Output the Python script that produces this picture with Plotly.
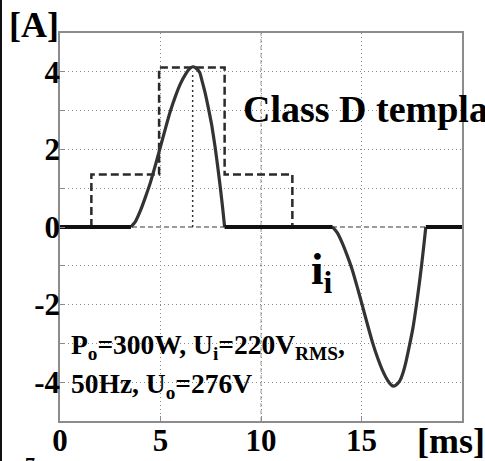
import plotly.graph_objects as go

# ---- data (time in ms, current in A) ----
pos_t = [3.53, 3.75, 4.00, 4.25, 4.50, 4.75, 5.00, 5.25, 5.50, 5.75, 6.00, 6.25, 6.45, 6.60,
         6.75, 6.95, 7.05, 7.20, 7.40, 7.55, 7.72, 7.86, 7.98, 8.09, 8.19]
pos_i = [0.00, 0.14, 0.42, 0.77, 1.15, 1.60, 2.07, 2.55, 3.00, 3.38, 3.70, 3.94, 4.08, 4.13,
         4.10, 3.98, 3.80, 3.50, 3.02, 2.62, 2.05, 1.50, 1.00, 0.50, 0.00]

neg_t = [13.56, 13.80, 14.05, 14.30, 14.55, 14.80, 15.05, 15.30, 15.55, 15.80, 16.05, 16.30, 16.48, 16.60,
         16.75, 16.92, 17.05, 17.20, 17.40, 17.56, 17.73, 17.87, 17.99, 18.10, 18.20]
neg_i = [0.00, -0.15, -0.42, -0.75, -1.12, -1.57, -2.04, -2.52, -2.98, -3.37, -3.70, -3.95, -4.07, -4.10,
         -4.06, -3.95, -3.78, -3.50, -3.02, -2.60, -2.02, -1.48, -0.98, -0.48, 0.00]

template_t = [1.56, 1.56, 4.93, 4.93, 8.19, 8.19, 11.56, 11.56]
template_i = [0.0, 1.355, 1.355, 4.11, 4.11, 1.355, 1.355, 0.0]

peak_t = 6.60
peak_i = 4.00

x_range = [0, 20]
y_range = [-5, 5]
x_ticks = [0, 5, 10, 15]
y_ticks = [-4, -2, 0, 2, 4]
y_minor = [-4, -3, -2, -1, 0, 1, 2, 3, 4]
dashed_grid_x = [10]

# ---- figure geometry (margins expressed through axis domains) ----
W, H = 485, 461
PL, PR, PT, PB = 60, 462, 33, 421   # plot-area box in pixels


def px(x):
    return x / W


def py(y):
    return (H - y) / H


SERIF = "Liberation Serif, Times New Roman, serif"

fig = go.Figure()

# gray dashed zero line
fig.add_trace(go.Scatter(x=x_range, y=[0, 0], mode="lines",
                         line=dict(color="#9a9a9a", width=2, dash="5px,3px"),
                         hoverinfo="skip", showlegend=False))

# dashed grid line at 10 ms
for xv in dashed_grid_x:
    fig.add_trace(go.Scatter(x=[xv, xv], y=y_range, mode="lines",
                             line=dict(color="#9a9a9a", width=1, dash="4px,3px"),
                             hoverinfo="skip", showlegend=False))

# dotted peak marker
fig.add_trace(go.Scatter(x=[peak_t, peak_t], y=[0, peak_i], mode="lines",
                         line=dict(color="#333333", width=1.5, dash="2px,3px"),
                         hoverinfo="skip", showlegend=False))

# Class D template (dashed)
fig.add_trace(go.Scatter(x=template_t, y=template_i, mode="lines",
                         line=dict(color="#2a2a2a", width=2.5, dash="8px,4px"),
                         hoverinfo="skip", showlegend=False))

# current humps
hump_t = pos_t + [None] + neg_t
hump_i = pos_i + [None] + neg_i
fig.add_trace(go.Scatter(x=hump_t, y=hump_i, mode="lines",
                         line=dict(color="#333333", width=3.2, shape="spline", smoothing=0.5),
                         connectgaps=False, hoverinfo="skip", showlegend=False))

# zero-current intervals (thick black)
flat_t = [x_range[0], pos_t[0], None, pos_t[-1], neg_t[0], None, neg_t[-1], x_range[1]]
flat_i = [0, 0, None, 0, 0, None, 0, 0]
fig.add_trace(go.Scatter(x=flat_t, y=flat_i, mode="lines",
                         line=dict(color="#111111", width=4),
                         connectgaps=False, hoverinfo="skip", showlegend=False))

grid_common = dict(gridcolor="#8a8a8a", gridwidth=1, griddash="1px,3px")
tick_font = dict(family=SERIF, size=31, color="#000", weight="bold")

fig.update_xaxes(domain=[px(PL), px(PR)], range=x_range, automargin=False,
                 tickvals=x_ticks, ticktext=[str(v) for v in x_ticks],
                 showgrid=True, zeroline=False, showline=True, mirror=True,
                 linecolor="#8c8c8c", linewidth=1.5,
                 ticks="inside", ticklen=5, tickcolor="#8c8c8c",
                 tickfont=tick_font, ticklabelstandoff=-9,
                 **grid_common)
fig.update_yaxes(domain=[py(PB), py(PT)], range=y_range, automargin=False,
                 tickvals=y_ticks, ticktext=[str(v) for v in y_ticks],
                 showgrid=True, zeroline=False, showline=True, mirror=True,
                 linecolor="#8c8c8c", linewidth=1.5,
                 ticks="inside", ticklen=5, tickcolor="#8c8c8c",
                 tickfont=tick_font, ticklabelstandoff=-8,
                 minor=dict(tickvals=y_minor, showgrid=True, ticks="inside", ticklen=5,
                            tickcolor="#8c8c8c", **grid_common),
                 **grid_common)

annots = [
    dict(text="[A]", x=34, y=25, size=36, xanchor="center"),
    dict(text="Class D template", x=241, y=109, size=38, xanchor="left"),
    dict(text="i<sub>i</sub>", x=309, y=272, size=45, xanchor="left"),
    dict(text="P<sub>o</sub>=300W, U<sub>i</sub>=220V<sub>RMS</sub>,", x=69, y=346,
         size=27.5, xanchor="left"),
    dict(text="50Hz, U<sub>o</sub>=276V", x=69, y=385, size=27.5, xanchor="left"),
    dict(text="[ms]", x=415, y=441, size=36, xanchor="left"),
    dict(text="7", x=30, y=452, size=20, xanchor="center", yanchor="top"),
]
for a in annots:
    fig.add_annotation(text=a["text"], x=px(a["x"]), y=py(a["y"]), xref="paper", yref="paper",
                       xanchor=a["xanchor"], yanchor=a.get("yanchor", "middle"),
                       showarrow=False,
                       font=dict(family=SERIF, size=a["size"], color="#000", weight="bold"))

# black rule along the left edge of the image
fig.add_shape(type="rect", xref="paper", yref="paper",
              x0=0, x1=px(2), y0=0, y1=1,
              line=dict(width=0), fillcolor="#111111")

fig.update_layout(width=W, height=H, margin=dict(l=0, r=0, t=0, b=0, pad=0),
                  paper_bgcolor="white", plot_bgcolor="white", showlegend=False)

fig.write_html("out.html")
